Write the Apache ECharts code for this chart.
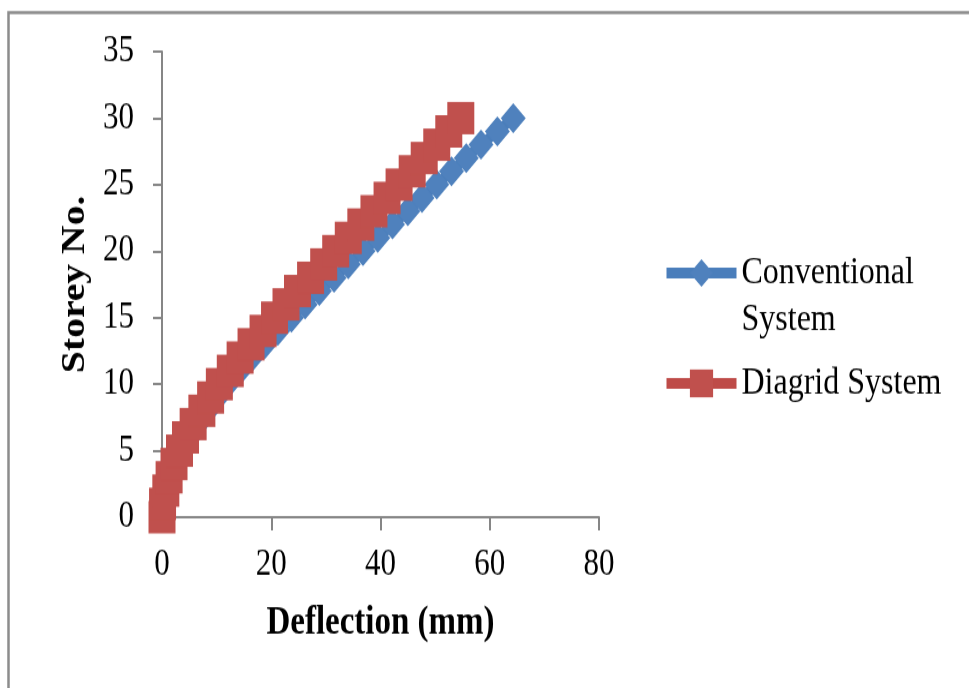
<!DOCTYPE html>
<html>
<head>
<meta charset="utf-8">
<title>Storey vs Deflection</title>
<script src="https://cdn.jsdelivr.net/npm/echarts@6/dist/echarts.min.js"></script>
<style>
html, body { margin: 0; padding: 0; background: #fff; width: 969px; height: 688px; overflow: hidden; }
/* the reference is stretched vertically, so draw at 1/1.2 height and scale */
#wrap { width: 969px; height: 688px; overflow: hidden; }
#main { width: 969px; height: 574px; transform: scaleY(1.2); transform-origin: 0 0; }
</style>
</head>
<body>
<div id="wrap"><div id="main"></div></div>
<script>
var storeys = [0, 1, 2, 3, 4, 5, 6, 7, 8, 9, 10, 11, 12, 13, 14, 15,
    16, 17, 18, 19, 20, 21, 22, 23, 24, 25, 26, 27, 28, 29, 30];

// deflection in mm, one value per storey
var conventional = [0, 0.3, 0.9, 1.6, 2.6, 3.7, 5.0, 6.5, 8.3, 10.1, 12.0,
    14.2, 16.4, 18.8, 21.2, 23.7, 26.2, 28.8, 31.5, 34.1, 36.8, 39.5, 42.2,
    45.0, 47.6, 50.3, 53.0, 55.7, 58.4, 61.4, 64.3];
var diagrid = [0, 0.1, 0.7, 1.3, 2.2, 3.2, 4.3, 5.7, 7.3, 8.9, 10.5,
    12.5, 14.3, 16.3, 18.5, 20.6, 22.7, 24.8, 27.2, 29.6, 31.8, 34.1, 36.4,
    38.8, 41.2, 43.4, 45.8, 48.0, 50.3, 52.5, 54.7];

var seriesNames = ['Conventional System', 'Diagrid System'];

var serif = "'Liberation Serif', 'Times New Roman', serif";
var axisGray = '#868686';

function pairs(vals) {
    return storeys.map(function (s, i) { return [vals[i], s]; });
}

var myChart = echarts.init(document.getElementById('main'));

myChart.setOption({
    animation: false,
    graphic: [{
        type: 'rect',
        left: 6,
        top: 8,
        shape: { width: 2000, height: 2000 },
        style: { fill: 'none', stroke: '#8c8c8c', lineWidth: 2.5 },
        silent: true
    }],
    grid: { left: 162, right: 370, top: 43, bottom: 143 },
    legend: {
        orient: 'vertical',
        left: 662,
        top: 169,
        padding: 0,
        itemGap: 14,
        itemWidth: 70,
        itemHeight: 29,
        lineStyle: { width: 9 },
        // blank first line keeps the icon level with "Conventional"
        formatter: function (name) {
            return name === 'Conventional System' ? '\nConventional\nSystem' : name;
        },
        textStyle: { fontFamily: serif, fontSize: 32, lineHeight: 39, color: '#000' },
        data: seriesNames
    },
    xAxis: {
        type: 'value',
        min: 0,
        max: 80,
        interval: 20,
        name: 'Deflection (mm)',
        nameLocation: 'middle',
        nameGap: 72,
        nameTextStyle: { fontFamily: serif, fontSize: 33, fontWeight: 'bold', color: '#000' },
        splitLine: { show: false },
        axisLine: { lineStyle: { color: axisGray, width: 2 } },
        axisTick: { length: 11, lineStyle: { color: axisGray, width: 2 } },
        axisLabel: { margin: 24, fontFamily: serif, fontSize: 31, color: '#000' }
    },
    yAxis: {
        type: 'value',
        min: 0,
        max: 35,
        interval: 5,
        name: 'Storey No.',
        nameLocation: 'middle',
        nameRotate: 90,
        nameGap: 70,
        nameTextStyle: { fontFamily: serif, fontSize: 33, fontWeight: 'bold', color: '#000' },
        splitLine: { show: false },
        axisLine: { show: true, lineStyle: { color: axisGray, width: 2 } },
        axisTick: { show: true, length: 9, lineStyle: { color: axisGray, width: 2 } },
        axisLabel: { margin: 28, fontFamily: serif, fontSize: 31, color: '#000' }
    },
    series: [
        {
            name: seriesNames[0],
            type: 'line',
            data: pairs(conventional),
            symbol: 'diamond',
            symbolSize: 25,
            clip: false,
            color: '#4F81BD',
            lineStyle: { width: 9, color: '#4A7EBB' },
            itemStyle: { color: '#4F81BD' }
        },
        {
            name: seriesNames[1],
            type: 'line',
            data: pairs(diagrid),
            symbol: 'rect',
            symbolSize: 27,
            clip: false,
            color: '#C0504D',
            lineStyle: { width: 9, color: '#BE4B48' },
            itemStyle: { color: '#C0504D' }
        }
    ]
});
</script>
</body>
</html>
